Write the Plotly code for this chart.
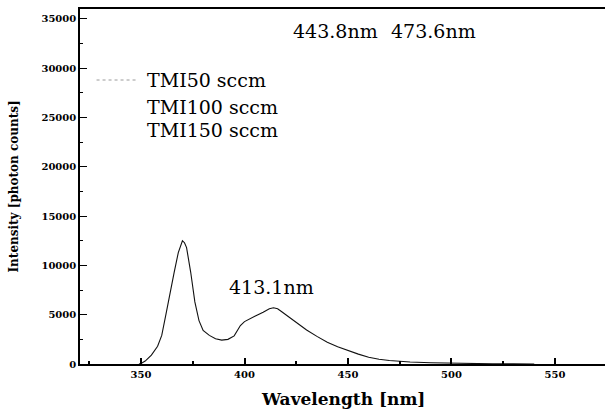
import plotly.graph_objects as go

# Spectrum
wavelength = [349, 350, 352, 355, 358, 360, 362, 364, 366, 368, 370, 371, 372, 374, 376, 378,
              380, 383, 386, 389, 392, 395, 398, 400, 403, 406, 409, 412, 414, 416, 418, 420,
              422, 426, 430, 435, 440, 445, 450, 455, 460, 465, 470, 475, 480, 490, 500, 510,
              520, 530, 540]
intensity = [0, 60, 300, 900, 1800, 2900, 5000, 7300, 9300, 11300, 12500, 12300, 11800, 9300,
             6300, 4400, 3400, 2900, 2550, 2420, 2500, 2850, 3900, 4300, 4650, 4950, 5250, 5600,
             5700, 5600, 5300, 5000, 4650, 4100, 3450, 2800, 2200, 1750, 1350, 1000, 680, 480,
             360, 260, 200, 130, 70, 40, 20, 10, 0]

series_names = ["TMI50 sccm", "TMI100 sccm", "TMI150 sccm"]
peak_labels = ["443.8nm", "473.6nm", "413.1nm"]
x_ticks = [350, 400, 450, 500, 550]
y_ticks = [0, 5000, 10000, 15000, 20000, 25000, 30000, 35000]

serif = "DejaVu Serif"

fig = go.Figure()
fig.add_trace(go.Scatter(x=wavelength, y=intensity, mode="lines",
                         line=dict(color="#111111", width=1.1), showlegend=False))

fig.update_layout(
    width=605, height=414,
    margin=dict(l=80, r=0, t=9, b=50),
    paper_bgcolor="white", plot_bgcolor="white",
    showlegend=False,
    font=dict(family=serif, color="black"),
)
fig.update_xaxes(
    range=[320.5, 574.2], showgrid=False, zeroline=False,
    showline=True, linecolor="black", linewidth=2, mirror=True,
    ticks="inside", ticklen=6, tickwidth=1.5, tickcolor="black",
    tickvals=x_ticks, ticktext=[str(v) for v in x_ticks],
    tickfont=dict(family=serif, size=10, color="black", weight="bold"),
    minor=dict(dtick=25, ticks="inside", ticklen=3, tickwidth=1.5, tickcolor="black"),
)
fig.update_yaxes(
    range=[0, 36000], showgrid=False, zeroline=False,
    showline=True, linecolor="black", linewidth=1.5, mirror=False,
    ticks="inside", ticklen=7, tickwidth=1.2, tickcolor="black",
    tickvals=y_ticks, ticktext=[str(v) for v in y_ticks],
    tickfont=dict(family=serif, size=10, color="black", weight="bold"),
    minor=dict(dtick=2500, ticks="inside", ticklen=3, tickwidth=1.2, tickcolor="black"),
)

# axis titles
fig.add_annotation(text="<b>Wavelength [nm]</b>", xref="paper", yref="paper", x=0.5, y=0,
                   yshift=-35, showarrow=False, font=dict(family=serif, size=17, color="black"),
                   xanchor="center", yanchor="middle")
fig.add_annotation(text="<b>Intensity [photon counts]</b>", xref="paper", yref="paper", x=0,
                   y=0.5, xshift=-67, textangle=-90, showarrow=False,
                   font=dict(family=serif, size=12, color="black"),
                   xanchor="center", yanchor="middle")

# legend (as drawn in the reference)
leg_y = [28800, 26100, 23700]
for name, yy in zip(series_names, leg_y):
    fig.add_annotation(text=name, xref="x", yref="y", x=352, y=yy, showarrow=False,
                       xanchor="left", yanchor="middle",
                       font=dict(family=serif, size=19, color="black"))
fig.add_shape(type="line", xref="x", yref="y", x0=328.5, x1=347.5, y0=28800, y1=28800,
              line=dict(color="#9a9a9a", width=1, dash="dot"))

# peak labels
fig.add_annotation(text=peak_labels[0], xref="x", yref="y", x=443.8, y=33800, showarrow=False,
                   font=dict(family=serif, size=19, color="black"), xanchor="center", yanchor="middle")
fig.add_annotation(text=peak_labels[1], xref="x", yref="y", x=491.5, y=33800, showarrow=False,
                   font=dict(family=serif, size=19, color="black"), xanchor="center", yanchor="middle")
fig.add_annotation(text=peak_labels[2], xref="x", yref="y", x=413.1, y=7800, showarrow=False,
                   font=dict(family=serif, size=19, color="black"), xanchor="center", yanchor="middle")

fig.write_html("out.html", config={"displayModeBar": False},
               post_script="document.body.style.margin='0';")
